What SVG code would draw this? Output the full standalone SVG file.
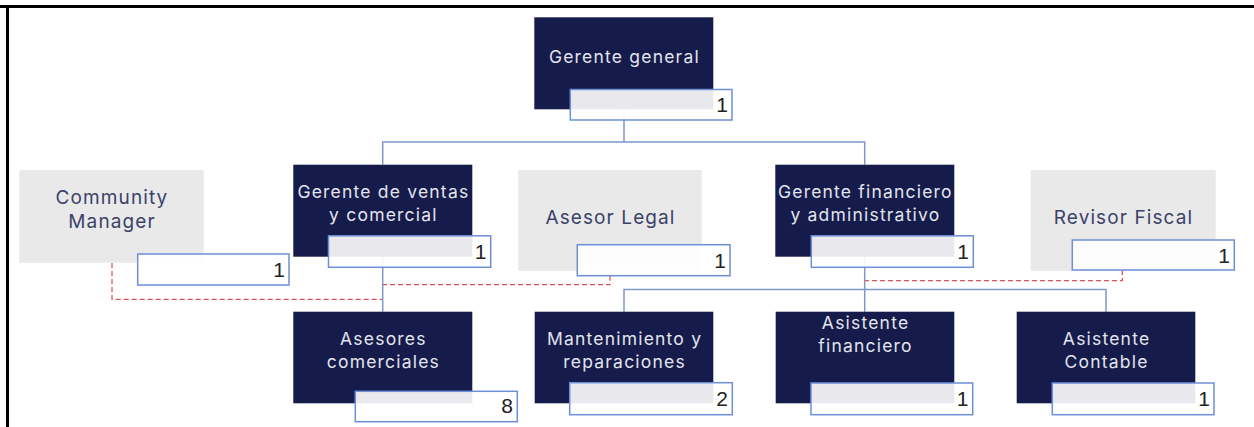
<svg xmlns="http://www.w3.org/2000/svg" width="1254" height="427" viewBox="0 0 1254 427">
  <style>
    .mgr { fill: #151b4b; }
    .adv { fill: #e9e9ea; }
    .cnt { fill: #ffffff; fill-opacity: 0.9; stroke: #6d8fd8; stroke-width: 1.5; }
    .t-dark { font-family: Inter, "Noto Sans", sans-serif; font-size: 17.5px; letter-spacing: 1.2px; fill: #e3e4ec; text-anchor: middle; }
    .t-light { font-family: Inter, "Noto Sans", sans-serif; font-size: 19px; letter-spacing: 1.1px; fill: #3b4268; text-anchor: middle; }
    .num { font-family: "Liberation Sans", Arial, sans-serif; font-size: 21px; fill: #222222; text-anchor: end; }
    .link { fill: none; stroke: #7f97c9; stroke-width: 1.5; }
    .staff { fill: none; stroke: #e05555; stroke-width: 1.3; stroke-dasharray: 5 3; }
  </style>

  <!-- page frame (top and left rules only) -->
  <g id="frame">
    <line x1="0" y1="6.5" x2="1254" y2="6.5" stroke="#000" stroke-width="3"/>
    <line x1="7.5" y1="5" x2="7.5" y2="427" stroke="#000" stroke-width="3"/>
  </g>

  <!-- reporting lines -->
  <g id="connectors">
    <path class="link" d="M624 110 V142 M382.7 164.5 V142 H864.7 V164.5"/>
    <path class="link" d="M382.7 256 V311.7"/>
    <path class="link" d="M864.7 256 V289.5 M624 311.7 V289.5 H1106 V311.7 M864.7 289.5 V311.7"/>
    <!-- staff / advisory lines -->
    <path class="staff" d="M112 263 V299.3 H382"/>
    <path class="staff" d="M610 275.7 V284.7 H383"/>
    <path class="staff" d="M1122.3 270 V280.7 H865"/>
  </g>

  <g id="gerente-general">
    <rect class="mgr" x="534.3" y="17.3" width="179" height="92"/>
    <text class="t-dark" x="624.4" y="63.3">Gerente general</text>
    <rect class="cnt" x="570.3" y="89.5" width="161.7" height="30.5"/>
    <text class="num" x="728" y="111.7">1</text>
  </g>

  <g id="community-manager">
    <rect class="adv" x="19.3" y="170" width="184.4" height="92.7"/>
    <text class="t-light" x="112" y="204">Community</text>
    <text class="t-light" x="112" y="227.7">Manager</text>
    <rect class="cnt" x="137.7" y="254" width="151.3" height="31"/>
    <text class="num" x="285" y="277">1</text>
  </g>

  <g id="gerente-ventas">
    <rect class="mgr" x="293.3" y="164.7" width="179" height="92"/>
    <text class="t-dark" x="383.4" y="197.7">Gerente de ventas</text>
    <text class="t-dark" x="383.4" y="221.3">y comercial</text>
    <rect class="cnt" x="328.5" y="235.8" width="162.2" height="31.5"/>
    <text class="num" x="486.5" y="259">1</text>
  </g>

  <g id="asesor-legal">
    <rect class="adv" x="518.3" y="170" width="183.4" height="100.7"/>
    <text class="t-light" x="610.5" y="224">Asesor Legal</text>
    <rect class="cnt" x="577.3" y="244.7" width="152.7" height="31"/>
    <text class="num" x="726" y="268">1</text>
  </g>

  <g id="gerente-financiero">
    <rect class="mgr" x="775.3" y="164.7" width="179" height="92"/>
    <text class="t-dark" x="865.4" y="197.7">Gerente financiero</text>
    <text class="t-dark" x="865.4" y="221.3">y administrativo</text>
    <rect class="cnt" x="811.3" y="235.8" width="162" height="31.5"/>
    <text class="num" x="969" y="259">1</text>
  </g>

  <g id="revisor-fiscal">
    <rect class="adv" x="1030.7" y="170" width="185" height="100.7"/>
    <text class="t-light" x="1123.5" y="224">Revisor Fiscal</text>
    <rect class="cnt" x="1072.3" y="240" width="162" height="30"/>
    <text class="num" x="1230" y="263">1</text>
  </g>

  <g id="asesores-comerciales">
    <rect class="mgr" x="293.3" y="311.7" width="179" height="91.6"/>
    <text class="t-dark" x="383.4" y="345">Asesores</text>
    <text class="t-dark" x="383.4" y="368.3">comerciales</text>
    <rect class="cnt" x="355.3" y="391.3" width="162" height="30.4"/>
    <text class="num" x="513" y="413.3">8</text>
  </g>

  <g id="mantenimiento">
    <rect class="mgr" x="534.7" y="311.7" width="178.6" height="91.6"/>
    <text class="t-dark" x="624.6" y="345">Mantenimiento y</text>
    <text class="t-dark" x="624.6" y="368.3">reparaciones</text>
    <rect class="cnt" x="569.7" y="382.7" width="162.6" height="32"/>
    <text class="num" x="728" y="406">2</text>
  </g>

  <g id="asistente-financiero">
    <rect class="mgr" x="775.7" y="311.7" width="178.6" height="91.6"/>
    <text class="t-dark" x="865.6" y="329.3">Asistente</text>
    <text class="t-dark" x="865.6" y="351.7">financiero</text>
    <rect class="cnt" x="811" y="383" width="161.7" height="31.7"/>
    <text class="num" x="968.5" y="406">1</text>
  </g>

  <g id="asistente-contable">
    <rect class="mgr" x="1016.7" y="311.7" width="178.6" height="91.6"/>
    <text class="t-dark" x="1106.6" y="345">Asistente</text>
    <text class="t-dark" x="1106.6" y="368.3">Contable</text>
    <rect class="cnt" x="1052.3" y="383" width="161.7" height="31.7"/>
    <text class="num" x="1210" y="406">1</text>
  </g>
</svg>
